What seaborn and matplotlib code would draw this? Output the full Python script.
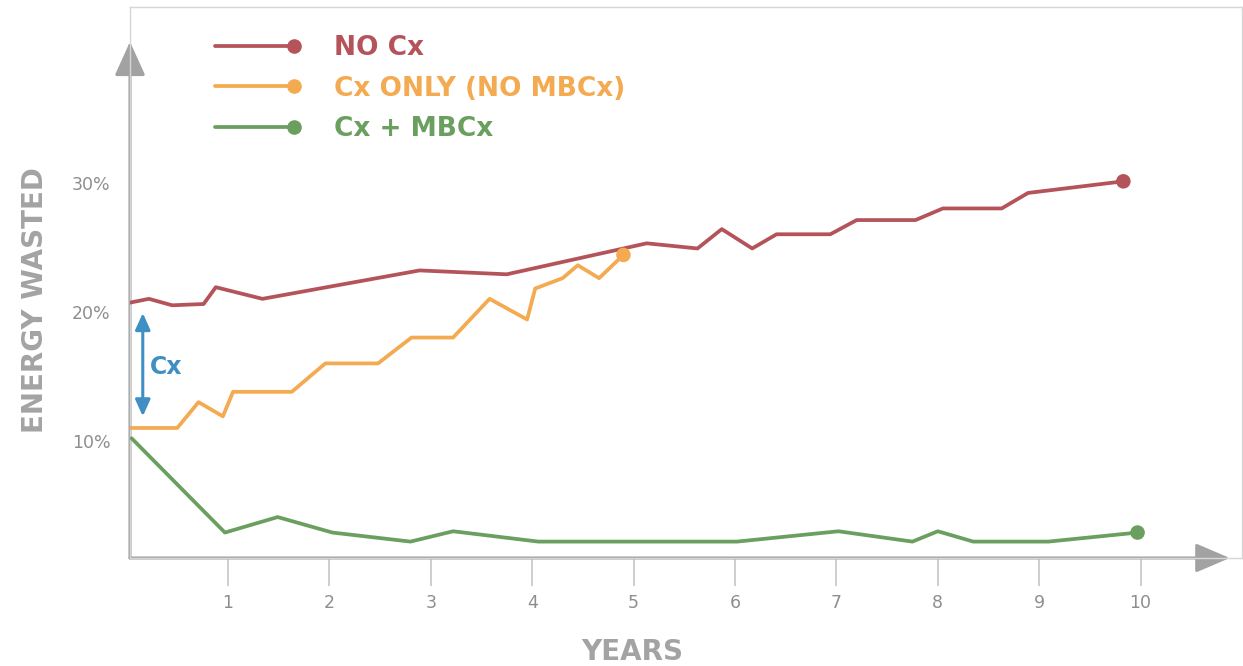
import pandas as pd
import matplotlib.pyplot as plt
import seaborn as sns
from matplotlib.lines import Line2D
from matplotlib.legend_handler import HandlerLine2D

# values (years, % energy wasted)
no_cx_years = [0.03, 0.22, 0.45, 0.76, 0.88, 1.34, 2.89, 3.75, 5.13, 5.63, 5.87, 6.17,
               6.41, 6.94, 7.20, 7.78, 8.05, 8.63, 8.89, 9.83]
no_cx_vals = [20.7, 21.0, 20.5, 20.6, 21.9, 21.0, 23.2, 22.9, 25.3, 24.9, 26.4, 24.9,
              26.0, 26.0, 27.1, 27.1, 28.0, 28.0, 29.2, 30.1]

cx_only_years = [0.03, 0.50, 0.71, 0.95, 1.05, 1.63, 1.96, 2.48, 2.81, 3.22, 3.58, 3.95,
                 4.03, 4.30, 4.45, 4.66, 4.90]
cx_only_vals = [11.0, 11.0, 13.0, 11.9, 13.8, 13.8, 16.0, 16.0, 18.0, 18.0, 21.0, 19.4,
                21.8, 22.6, 23.6, 22.6, 24.4]

mbcx_years = [0.05, 0.97, 1.49, 2.03, 2.80, 3.22, 4.06, 6.02, 7.02, 7.75, 8.00, 8.35,
              9.09, 9.97]
mbcx_vals = [10.2, 2.9, 4.1, 2.9, 2.2, 3.0, 2.2, 2.2, 3.0, 2.2, 3.0, 2.2, 2.2, 2.9]

series_names = ['NO Cx', 'Cx ONLY (NO MBCx)', 'Cx + MBCx']
colors = ['#b4545a', '#f3aa50', '#6a9f5f']
x_ticks = [1, 2, 3, 4, 5, 6, 7, 8, 9, 10]
y_ticks = [10, 20, 30]
y_tick_labels = ['10%', '20%', '30%']

df = pd.concat([
    pd.DataFrame({'year': no_cx_years, 'wasted': no_cx_vals, 'series': series_names[0]}),
    pd.DataFrame({'year': cx_only_years, 'wasted': cx_only_vals, 'series': series_names[1]}),
    pd.DataFrame({'year': mbcx_years, 'wasted': mbcx_vals, 'series': series_names[2]}),
])
ends = df.groupby('series', sort=False).tail(1)
palette = dict(zip(series_names, colors))

sns.set_style('white')
plt.rcParams['font.family'] = ['DejaVu Sans']

fig = plt.figure(figsize=(12.43, 6.66), dpi=100)
ax = fig.add_axes([130 / 1243, 108 / 666, 1112 / 1243, 551 / 666])

sns.lineplot(data=df, x='year', y='wasted', hue='series', palette=palette,
             linewidth=2.7, legend=False, ax=ax, zorder=3, sort=False)
sns.scatterplot(data=ends, x='year', y='wasted', hue='series', palette=palette,
                s=110, linewidth=0, legend=False, ax=ax, zorder=4)

ax.set_xlim(0.034, 11.0)
ax.set_ylim(0.93, 43.6)

for side in ['top', 'right', 'left', 'bottom']:
    ax.spines[side].set_color('#d6d6d6')
    ax.spines[side].set_linewidth(1)

# axis arrows
axis_grey = '#a2a2a2'
ax.annotate('', xy=(0, 0.937), xytext=(0, 0), xycoords='axes fraction',
            arrowprops=dict(arrowstyle='-|>,head_length=2.1,head_width=0.95',
                            mutation_scale=10, lw=2.2, color=axis_grey,
                            shrinkA=0, shrinkB=0), zorder=1, annotation_clip=False)
ax.annotate('', xy=(0.989, 0), xytext=(0, 0), xycoords='axes fraction',
            arrowprops=dict(arrowstyle='-|>,head_length=2.1,head_width=0.9',
                            mutation_scale=10, lw=2.2, color=axis_grey,
                            shrinkA=0, shrinkB=0), zorder=1, annotation_clip=False)

ax.set_xticks(x_ticks)
ax.set_xticklabels([str(t) for t in x_ticks])
ax.set_yticks(y_ticks)
ax.set_yticklabels(y_tick_labels)
ax.tick_params(axis='x', bottom=True, direction='out', length=20, width=1.2,
               color='#c6c6c6', labelsize=12.5, labelcolor='#8e8e8e', pad=6)
ax.tick_params(axis='y', left=False, length=0, labelsize=12.5, labelcolor='#8e8e8e', pad=14)

ax.set_xlabel('YEARS', fontsize=20, fontweight='bold', color='#a3a3a3', va='center')
ax.xaxis.set_label_coords(0.452, -0.171)
ax.set_ylabel('ENERGY WASTED', fontsize=20, fontweight='bold', color='#a3a3a3', va='center')
ax.yaxis.set_label_coords(-0.0854, 0.468)

# Cx gap arrow
blue = '#3f8fc4'
ax.annotate('', xy=(0.16, 19.9), xytext=(0.16, 11.9),
            arrowprops=dict(arrowstyle='<|-|>,head_length=1.0,head_width=0.45',
                            mutation_scale=10, lw=2.2, color=blue,
                            shrinkA=0, shrinkB=0))
ax.text(0.23, 15.7, 'Cx', color=blue, fontsize=17, fontweight='bold', va='center', ha='left')


class EndDotHandler(HandlerLine2D):
    def create_artists(self, legend, orig_handle, xdescent, ydescent, width, height,
                       fontsize, trans):
        artists = super().create_artists(legend, orig_handle, xdescent, ydescent, width,
                                         height, fontsize, trans)
        for a in artists:
            a.set_markevery([len(a.get_xdata()) - 1])
        return artists


handles = [Line2D([], [], color=c, lw=2.7, marker='o', markersize=9.5) for c in colors]
leg = fig.legend(handles, series_names, loc='upper left',
                 bbox_to_anchor=(215 / 1243, 1 - 35 / 666), frameon=False,
                 prop={'size': 19, 'weight': 'bold'}, handlelength=3.0,
                 handletextpad=1.5, labelspacing=0.55, borderpad=0, borderaxespad=0,
                 numpoints=1, handler_map={Line2D: EndDotHandler()})
for txt, c in zip(leg.get_texts(), colors):
    txt.set_color(c)

fig.savefig('out.png', dpi=100, facecolor='white')
